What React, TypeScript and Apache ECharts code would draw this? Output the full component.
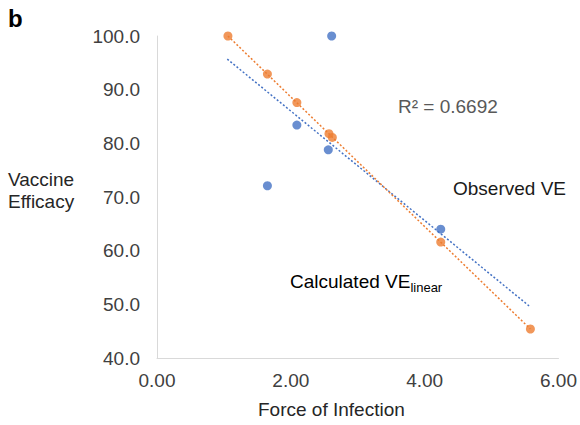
import React, { useEffect, useRef } from "react";
import * as echarts from "echarts";

const observedVE: number[][] = [
  [2.61, 100.0],
  [2.09, 83.4],
  [2.56, 78.8],
  [1.65, 72.1],
  [4.24, 64.0],
];
const calculatedVE: number[][] = [
  [1.06, 100.0],
  [1.65, 92.9],
  [2.09, 87.6],
  [2.57, 81.8],
  [2.62, 81.1],
  [4.24, 61.6],
  [5.58, 45.4],
];
const observedTrend: number[][] = [
  [1.05, 95.7],
  [5.56, 49.7],
];
const calculatedTrend: number[][] = [
  [1.06, 100.0],
  [5.58, 45.4],
];
const xTicks = [0, 2, 4, 6];
const yTicks = [40, 50, 60, 70, 80, 90, 100];

const BLUE = "#4472C4";
const ORANGE = "#ED7D31";
const FONT = "Liberation Sans, Arial, sans-serif";

export default function App() {
  const ref = useRef<HTMLDivElement>(null);
  useEffect(() => {
    if (!ref.current) return;
    const chart = echarts.init(ref.current, undefined, { renderer: "svg" });
    chart.setOption({
      animation: false,
      backgroundColor: "#ffffff",
      textStyle: { fontFamily: FONT },
      grid: { left: 157, top: 36, right: 20, bottom: 67, containLabel: false },
      xAxis: {
        type: "value",
        min: xTicks[0],
        max: xTicks[xTicks.length - 1],
        interval: 2,
        axisLine: { show: true, lineStyle: { color: "#d9d9d9", width: 1 } },
        axisTick: { show: false },
        splitLine: { show: false },
        axisLabel: {
          margin: 13,
          fontSize: 19,
          color: "#404040",
          fontFamily: FONT,
          formatter: (v: number) => v.toFixed(2),
        },
      },
      yAxis: {
        type: "value",
        min: yTicks[0],
        max: yTicks[yTicks.length - 1],
        interval: 10,
        axisLine: { show: true, lineStyle: { color: "#d9d9d9", width: 1 } },
        axisTick: { show: false },
        splitLine: { show: false },
        axisLabel: {
          margin: 17,
          fontSize: 19,
          color: "#404040",
          fontFamily: FONT,
          formatter: (v: number) => v.toFixed(1),
        },
      },
      series: [
        {
          type: "line",
          data: observedTrend,
          symbol: "none",
          lineStyle: { color: BLUE, width: 1.5, type: [2, 2] },
          z: 1,
        },
        {
          type: "line",
          data: calculatedTrend,
          symbol: "none",
          lineStyle: { color: ORANGE, width: 1.5, type: [2, 2] },
          z: 1,
        },
        {
          type: "scatter",
          data: observedVE,
          symbolSize: 9,
          itemStyle: { color: BLUE },
          z: 3,
        },
        {
          type: "scatter",
          data: calculatedVE,
          symbolSize: 9,
          itemStyle: { color: ORANGE },
          z: 3,
        },
      ],
      graphic: [
        {
          type: "text",
          left: 8,
          top: 6,
          style: { text: "b", font: `bold 24px ${FONT}`, fill: "#000" },
        },
        {
          type: "text",
          left: 8,
          top: 168,
          style: {
            text: "Vaccine\nEfficacy",
            font: `19px ${FONT}`,
            fill: "#262626",
            lineHeight: 22,
          },
        },
        {
          type: "text",
          left: 258,
          top: 400,
          style: { text: "Force of Infection", font: `19px ${FONT}`, fill: "#262626" },
        },
        {
          type: "text",
          left: 398,
          top: 97,
          style: { text: "R² = 0.6692", font: `19px ${FONT}`, fill: "#595959" },
        },
        {
          type: "text",
          left: 453,
          top: 179,
          style: { text: "Observed VE", font: `19px ${FONT}`, fill: "#1a1a1a" },
        },
        {
          type: "text",
          left: 290,
          top: 272,
          style: {
            text: "{a|Calculated VE}{b|linear}",
            rich: {
              a: { fontSize: 19, fontFamily: FONT, color: "#1a1a1a" },
              b: {
                fontSize: 13,
                fontFamily: FONT,
                color: "#1a1a1a",
                verticalAlign: "bottom",
                padding: [12, 0, 0, 0],
              },
            },
          },
        },
      ],
    });
    return () => chart.dispose();
  }, []);
  return (
    <div
      ref={ref}
      style={{ position: "fixed", left: 0, top: 0, width: 580, height: 425 }}
    />
  );
}
